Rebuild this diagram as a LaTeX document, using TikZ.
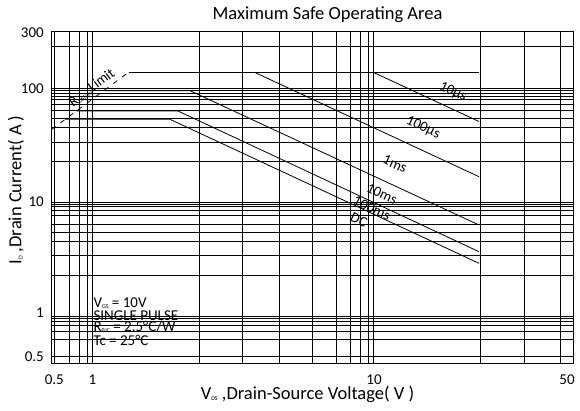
\documentclass[tikz,border=0pt]{standalone}
\usepackage{fontspec}
\setmainfont{Carlito}
\usepackage{tikz}
\usetikzlibrary{positioning}

\newcommand{\lowsub}[1]{\raisebox{-1.2pt}{\fontsize{6}{6}\selectfont #1}}

\begin{document}
\begin{tikzpicture}[
                    x=1pt, y=-1pt,
                    gridline/.style={line width=0.75pt},
                    soacurve/.style={line width=0.8pt},
                    ticklabel/.style={font=\fontsize{15}{15}\selectfont, inner sep=0pt},
                    curvelabel/.style={font=\fontsize{14.5}{15}\selectfont, inner sep=0pt, rotate=-25},
                    condline/.style={font=\fontsize{15}{15}\selectfont, inner sep=0pt, anchor=base west},
                    every node/.style={text=black}
                ]
                  \useasboundingbox (0,0) rectangle (580,410);
                  % grid
                  \foreach \gx in {54.3,69,79.3,87.7,92.3,199,242.7,279.3,312.3,336,350,360.7,368.7,373.3,480,524,560.7}
                    \draw[gridline] (\gx,31) -- (\gx,363.3);
                  \foreach \gy in {46,88.3,90.7,93.3,96,99.5,104,110.5,118.5,127.5,142,161,202,204,206.5,210.5,215.5,224.3,232.3,241.7,255.7,275.7,316.7,318.5,321,325,331.7,339,356.7}
                    \draw[gridline] (51,\gy) -- (573,\gy);
                  \draw[gridline] (51,31) rectangle (573,363.3);

                  % limit and pulse curves
                  \draw[soacurve, dash pattern=on 5pt off 6pt] (51.5,129.5) -- (128.5,72.3);
                  \draw[soacurve] (128.5,72.3) -- (479,72.3);
                  \draw[soacurve] (373.3,72.3) -- (479,121.5);
                  \draw[soacurve] (254.5,72.3) -- (479,176.7);
                  \draw[soacurve] (103.7,90.7) -- (190,90.7) -- (479,225);
                  \draw[soacurve] (76.4,111) -- (178,111) -- (479,251.7);
                  \draw[soacurve] (65.2,119.3) -- (170,119.3) -- (479,263.3);

                  % curve labels
                  \node[curvelabel] (l10us)  at (453,92)  {10μs};
                  \node[curvelabel] (l100us) at (423,128) {100μs};
                  \node[curvelabel] (l1ms)   at (395,164) {1ms};
                  \node[curvelabel] (l10ms)  at (382,194) {10ms};
                  \node[curvelabel] (l100ms) at (372,208) {100ms};
                  \node[curvelabel] (ldc)    at (359,220) {DC};
                  \node[font=\fontsize{14.5}{15}\selectfont, inner sep=0pt, rotate=37] (limit) at (92,88) {R\lowsub{DS(on)}Limit};

                  % conditions
                  \node[condline] (vgs)   at (93.3,307.5) {V\lowsub{GS} = 10V};
                  \node[condline] (pulse) at (93.3,320)   {SINGLE PULSE};
                  \node[condline] (rth)   at (93.3,331.7) {R\lowsub{θJC} = 2.5°C/W};
                  \node[condline] (tc)    at (93.3,345.5) {Tc = 25°C};

                  % axis ticks
                  \node[ticklabel, anchor=east] (y300) at (44,33)    {300};
                  \node[ticklabel, anchor=east] (y100) at (44,88.3)  {100};
                  \node[ticklabel, anchor=east] (y10)  at (44,201.7) {10};
                  \node[ticklabel, anchor=east] (y1)   at (44,313)   {1};
                  \node[ticklabel, anchor=east] (y05)  at (44,357)   {0.5};
                  \node[ticklabel] (x05) at (54.3,380) {0.5};
                  \node[ticklabel] (x1)  at (92.3,380) {1};
                  \node[ticklabel] (x10) at (374,380)  {10};
                  \node[ticklabel] (x50) at (567,380)  {50};

                  % titles
                  \node[font=\fontsize{18.5}{19}\selectfont] (title) at (327.5,15) {Maximum Safe Operating Area};
                  \node[font=\fontsize{18.5}{19}\selectfont] (xlabel) at (307.5,394) {V\lowsub{DS} ,Drain-Source Voltage( V )};
                  \node[font=\fontsize{18.5}{19}\selectfont, rotate=90] (ylabel) at (16,190) {I\lowsub{D} ,Drain Current( A )};
                \end{tikzpicture}
\end{document}
